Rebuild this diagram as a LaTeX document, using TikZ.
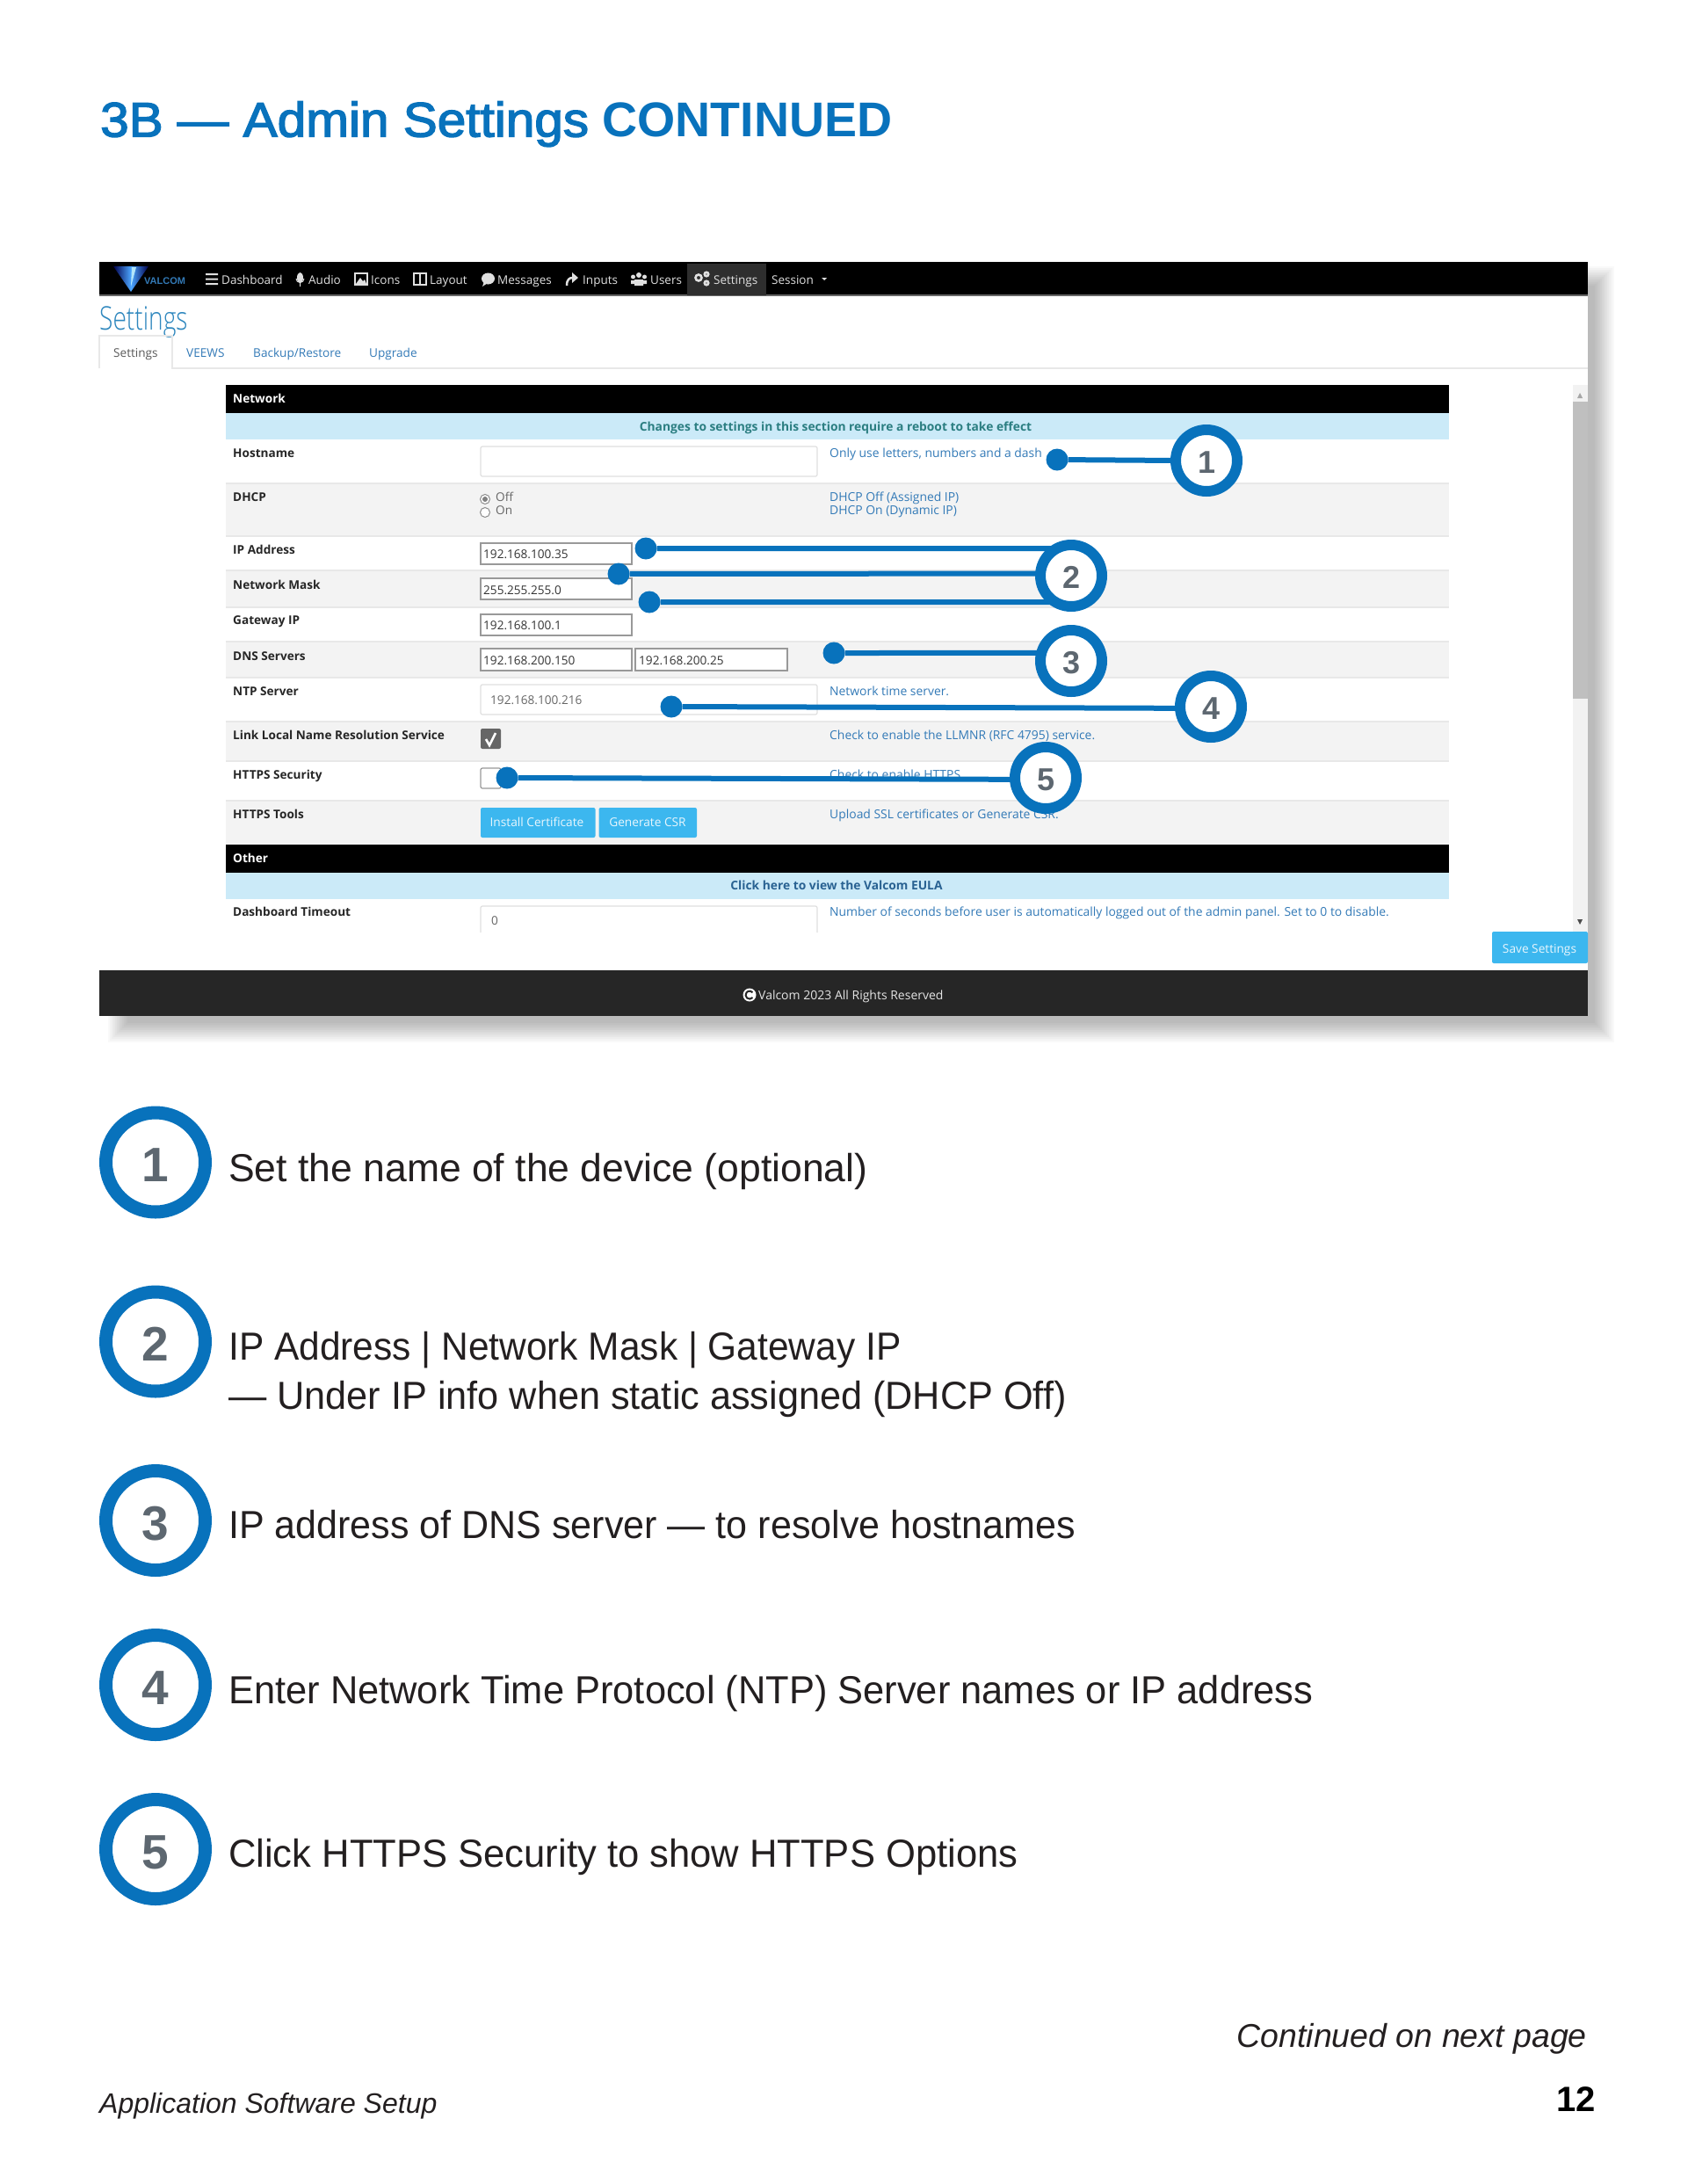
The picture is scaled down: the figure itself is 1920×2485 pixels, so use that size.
\documentclass[tikz,border=0pt]{standalone}
\usepackage{fontspec}
\usepackage{graphicx}
\setmainfont{Liberation Sans}
\newfontfamily\shotfont{Open Sans}
\newfontfamily\shotlight{Open Sans Light}
\newfontfamily\medfont[FakeBold=2.5]{Liberation Sans}
\usetikzlibrary{calc}

\definecolor{valblue}{HTML}{0872BC}
\definecolor{numgray}{HTML}{5D6770}
\definecolor{captext}{HTML}{231F20}
\definecolor{linkblue}{HTML}{337AB7}
\definecolor{rowgray}{HTML}{F3F3F3}
\definecolor{rowline}{HTML}{E8E8E8}
\definecolor{infoblue}{HTML}{CBEAF8}
\definecolor{btnblue}{HTML}{3CB7EF}

\tikzset{
    navtext/.style={anchor=base west,inner sep=0,text=white!88!black,font=\shotfont\fontsize{13.5}{15}\selectfont},
    tabtext/.style={anchor=base west,inner sep=0,text=linkblue,font=\shotfont\fontsize{13.6}{15}\selectfont},
    rowlabel/.style={anchor=base west,inner sep=0,text=black!85,font=\shotfont\bfseries\fontsize{13.6}{15}\selectfont},
    helptext/.style={anchor=base west,inner sep=0,text=linkblue,font=\shotfont\fontsize{13.9}{15}\selectfont},
    fieldtext/.style={anchor=base west,inner sep=0,text=black!80,font=\shotfont\fontsize{13.6}{15}\selectfont},
    softtext/.style={anchor=base west,inner sep=0,text=black!60,font=\shotfont\fontsize{13.6}{15}\selectfont},
    btntext/.style={anchor=base,inner sep=0,text=white!88!btnblue,font=\shotfont\fontsize{13.7}{15}\selectfont},
    infotext/.style={anchor=base,inner sep=0,font=\shotfont\bfseries\fontsize{13.8}{15}\selectfont},
    hardbox/.style={draw=black!40,line width=1.2,fill=white},
    softbox/.style={draw=black!12,line width=1.2,fill=white,rounded corners=2},
    smallbadge/.style={circle,draw=valblue,fill=white,line width=12,minimum size=70,outer sep=0,inner sep=0,
        text=numgray,text height=29,text depth=0,font=\bfseries\fontsize{36}{36}\selectfont},
    bigbadge/.style={circle,draw=valblue,fill=white,line width=15,minimum size=113,outer sep=0,inner sep=0,
        text=numgray,text height=44,text depth=0,font=\bfseries\fontsize{55}{55}\selectfont},
    leaddot/.style={circle,fill=valblue,minimum size=25,inner sep=0,outer sep=0},
    leadline/.style={draw=valblue,line width=6},
    caption/.style={anchor=base west,inner sep=0,align=left,text=captext,font=\fontsize{44.5}{56}\selectfont},
    pagenote/.style={inner sep=0,text=captext,font=\itshape\fontsize{37.5}{40}\selectfont},
}

\begin{document}
\begin{tikzpicture}[x=1pt,y=-1pt]
    \useasboundingbox (0,0) rectangle (1920,2485);
    \fill[white] (0,0) rectangle (1920,2485);

    % draw the title
    \node[anchor=base west,inner sep=0,text=valblue,font=\fontsize{55.5}{60}\selectfont] (title) at (114,155.5)
        {\scalebox{1.054}[1]{\medfont 3B — Admin Settings} \textbf{CONTINUED}};

    % draw the shadow and the window
    \foreach \b in {0,...,11}
        \fill[black,opacity=0.025] (123+2*\b,303+2*\b) rectangle (1837-2*\b,1186-2*\b);
    \fill[white] (113,298) rectangle (1807,1156);

    % draw the top bar
    \fill[black] (113,298) rectangle (1807,335);
    \fill[black!60] (113,335) rectangle (1807,337);
    \fill[black!82] (782,300) rectangle (872,336);
    \shade[left color=black!70!blue,right color=black!70!blue,middle color=cyan!50!blue!70] (129,303) -- (169,303) -- (149,332) -- cycle;
    \fill[white!70!cyan] (150,304) -- (155,304) -- (149,326) -- cycle;
    \node[anchor=base west,inner sep=0,text=linkblue,font=\bfseries\fontsize{11}{11}\selectfont] (navlogo) at (164,323) {VALCOM};
    \node[navtext] (navdash) at (252,323) {Dashboard};
    \node[navtext] (navaudio) at (351,323) {Audio};
    \node[navtext] (navicons) at (422,323) {Icons};
    \node[navtext] (navlayout) at (489,323) {Layout};
    \node[navtext] (navmsg) at (566,323) {Messages};
    \node[navtext] (navinputs) at (663,323) {Inputs};
    \node[navtext] (navusers) at (740,323) {Users};
    \node[navtext] (navsettings) at (812,323) {Settings};
    \node[navtext] (navsession) at (878,323) {Session};

    % draw the icons of the top bar
    \fill[white!88!black] (234,311) rectangle (248,313) (234,316.5) rectangle (248,318.5) (234,322) rectangle (248,324);
    \fill[white!88!black] (341.5,316) ellipse [x radius=3.5,y radius=6];
    \draw[white!88!black,line width=1] (337,317) arc (180:0:4.5) (341.5,321.5) -- (341.5,326);
    \draw[white!88!black,line width=1.6] (404,311) rectangle (418,324);
    \fill[white!88!black] (405,323) -- (410,316) -- (413,320) -- (415,318) -- (417,323) -- cycle;
    \draw[white!88!black,line width=1.6] (471,311) rectangle (485,324) (478,311) -- (478,324);
    \fill[white!88!black] (555.5,317) ellipse [x radius=7.5,y radius=6.5];
    \fill[white!88!black] (549,326) -- (551,320) -- (555,322) -- cycle;
    \draw[white!88!black,line width=2.5] (645,325) .. controls (645,318) and (648,316) .. (652,316);
    \fill[white!88!black] (651,310) -- (658,316) -- (651,322) -- cycle;
    \fill[white!88!black] (727,313) circle (3) (720.5,315) circle (2.5) (733.5,315) circle (2.5);
    \fill[white!88!black] (722,325) rectangle (732,318) (718,323) rectangle (722,319) (732,323) rectangle (736,319);
    \draw[white!88!black,line width=2.6] (795,316) circle (3.5) (804,322) circle (2.2) (804,312) circle (2.2);
    \fill[white!88!black] (935,316) -- (941,316) -- (938,319) -- cycle;

    % draw the heading and the tabs
    \node[anchor=base west,inner sep=0,text=linkblue!90!cyan,font=\shotlight\fontsize{37}{37}\selectfont] (pagehead) at (113,375)
        {\scalebox{0.76}[1]{Settings}};
    \draw[rowline,line width=1.2] (113,419) -- (113,382) -- (196,382) -- (196,419) -- (1807,419);
    \node[tabtext,text=black!65] (tabsettings) at (129,406) {Settings};
    \node[tabtext] (tabveews) at (212,406) {VEEWS};
    \node[tabtext] (tabbackup) at (288,406) {Backup/Restore};
    \node[tabtext] (tabupgrade) at (420,406) {Upgrade};

    % draw the rows
    \fill[black] (257,438) rectangle (1649,470);
    \fill[infoblue] (257,470) rectangle (1649,500);
    \fill[rowgray] (257,550) rectangle (1649,610);
    \fill[rowgray] (257,649) rectangle (1649,691);
    \fill[rowgray] (257,730) rectangle (1649,771);
    \fill[rowgray] (257,821) rectangle (1649,866);
    \fill[rowgray] (257,911) rectangle (1649,961);
    \fill[black] (257,961) rectangle (1649,993);
    \fill[infoblue] (257,993) rectangle (1649,1023);
    \foreach \y in {550,610,649,691,730,771,821,866,911}
        \draw[rowline,line width=1.2] (257,\y) -- (1649,\y);

    % draw the row labels
    \node[rowlabel,text=white] (netlabel) at (265,458.5) {Network};
    \node[infotext,text=infoblue!30!black!70!cyan] (netinfo) at (951,490.5) {Changes to settings in this section require a reboot to take effect};
    \node[rowlabel] (hostlabel) at (265,520.5) {Hostname};
    \node[rowlabel] (dhcplabel) at (265,570.5) {DHCP};
    \node[rowlabel] (iplabel) at (265,630.5) {IP Address};
    \node[rowlabel] (masklabel) at (265,670.5) {Network Mask};
    \node[rowlabel] (gatelabel) at (265,710.5) {Gateway IP};
    \node[rowlabel] (dnslabel) at (265,751.5) {DNS Servers};
    \node[rowlabel] (ntplabel) at (265,791.5) {NTP Server};
    \node[rowlabel] (linklabel) at (265,841.5) {Link Local Name Resolution Service};
    \node[rowlabel] (httpslabel) at (265,886.5) {HTTPS Security};
    \node[rowlabel] (toolslabel) at (265,931.5) {HTTPS Tools};
    \node[rowlabel,text=white] (otherlabel) at (265,981.5) {Other};
    \node[infotext,text=linkblue!80!black] (eulainfo) at (952,1012.5) {Click here to view the Valcom EULA};
    \node[rowlabel] (timelabel) at (265,1042.5) {Dashboard Timeout};

    % draw the fields
    \draw[softbox] (547,508) rectangle (930,542);
    \draw[black!45,line width=1,fill=white] (552,568) circle (5.5);
    \fill[black!50] (552,568) circle (3);
    \draw[black!45,line width=1,fill=white] (552,583) circle (5.5);
    \node[softtext] (dhcpoff) at (564,570) {Off};
    \node[softtext] (dhcpon) at (564,585) {On};
    \draw[hardbox] (547,618) rectangle (719,642);
    \node[fieldtext] (ipvalue) at (550,635.5) {192.168.100.35};
    \draw[hardbox] (547,658) rectangle (719,682);
    \node[fieldtext] (maskvalue) at (550,676) {255.255.255.0};
    \draw[hardbox] (547,699) rectangle (719,723);
    \node[fieldtext] (gatevalue) at (550,716.5) {192.168.100.1};
    \draw[hardbox] (547,738) rectangle (719,763);
    \node[fieldtext] (dnsvalue) at (550,756.5) {192.168.200.150};
    \draw[hardbox] (723,738) rectangle (896,763);
    \node[fieldtext] (dnsother) at (727,756.5) {192.168.200.25};
    \draw[softbox] (547,779) rectangle (930,813);
    \node[softtext] (ntpvalue) at (558,801.5) {192.168.100.216};
    \fill[black!60,rounded corners=2] (547,829) rectangle (570,852);
    \draw[white,line width=2.6] (553,841) -- (557,848) -- (564,834);
    \draw[hardbox,rounded corners=2] (547,874) rectangle (570,897);
    \fill[btnblue,rounded corners=2] (547,919) rectangle (677.5,953);
    \node[btntext] (btninstall) at (611,940.5) {Install Certificate};
    \fill[btnblue,rounded corners=2] (681.5,919) rectangle (793,953);
    \node[btntext] (btncsr) at (737,940.5) {Generate CSR};
    \draw[black!12,line width=1.2,rounded corners=2] (547,1061) -- (547,1031) -- (930,1031) -- (930,1061);
    \node[softtext] (timevalue) at (559,1052.5) {0};

    % draw the help texts
    \node[helptext] (hosthelp) at (944,520.5) {Only use letters, numbers and a dash};
    \node[helptext] (offhelp) at (944,570.5) {DHCP Off (Assigned IP)};
    \node[helptext] (onhelp) at (944,585.5) {DHCP On (Dynamic IP)};
    \node[helptext] (ntphelp) at (944,791.5) {Network time server.};
    \node[helptext] (linkhelp) at (944,841.5) {Check to enable the LLMNR (RFC 4795) service.};
    \node[helptext] (httpshelp) at (944,886.5) {Check to enable HTTPS};
    \node[helptext] (toolshelp) at (944,931.5) {Upload SSL certificates or Generate CSR.};
    \node[helptext] (timehelp) at (944,1042.5) {Number of seconds before user is automatically logged out of the admin panel. Set to 0 to disable.};

    % draw the scrollbar, the button and the footer
    \fill[black!5] (1790,438) rectangle (1807,1060);
    \fill[black!25] (1790,457) rectangle (1807,795);
    \fill[black!35] (1795,453) -- (1801,453) -- (1798,447) -- cycle;
    \fill[black!70] (1795,1046) -- (1801,1046) -- (1798,1052) -- cycle;
    \fill[btnblue,rounded corners=2] (1698,1060) rectangle (1807,1096);
    \node[btntext] (btnsave) at (1752,1084) {Save Settings};
    \fill[black!85] (113,1104) rectangle (1807,1156);
    \fill[white] (853,1132) circle (7.5);
    \draw[black!85,line width=2] (856.5,1135) arc (40:320:4.5);
    \node[anchor=base west,inner sep=0,text=white!90!black,font=\shotfont\fontsize{14}{15}\selectfont] (footer) at (863,1137) {Valcom 2023 All Rights Reserved};

    % draw the badges on the window
    \node[smallbadge] (markone) at (1373,524) {1};
    \node[smallbadge] (marktwo) at (1219,655) {2};
    \node[smallbadge] (markthree) at (1219,752) {3};
    \node[smallbadge] (markfour) at (1378,804) {4};
    \node[smallbadge] (markfive) at (1190,885) {5};

    % draw the dots
    \node[leaddot] (dotone) at (1203,523) {};
    \node[leaddot] (dotip) at (735,624) {};
    \node[leaddot] (dotmask) at (704,653) {};
    \node[leaddot] (dotgate) at (739,685) {};
    \node[leaddot] (dotdns) at (949,743) {};
    \node[leaddot] (dotntp) at (764,804) {};
    \node[leaddot] (dothttps) at (577,885) {};

    % draw the lines
    \draw[leadline] (dotone) -- (markone.west);
    \draw[leadline] (dotip) -- (marktwo.118);
    \draw[leadline] (dotmask) -- (marktwo.176);
    \draw[leadline] (dotgate) -- (marktwo.239);
    \draw[leadline] (dotdns) -- (markthree.165);
    \draw[leadline] (dotntp) -- (markfour.183);
    \draw[leadline] (dothttps) -- (markfive.183);

    % draw the list below
    \node[bigbadge] (itemone) at (177,1322.5) {1};
    \node[bigbadge] (itemtwo) at (177,1526.5) {2};
    \node[bigbadge] (itemthree) at (177,1730) {3};
    \node[bigbadge] (itemfour) at (177,1917) {4};
    \node[bigbadge] (itemfive) at (177,2104) {5};
    \node[caption] (capone) at (260,1344.5) {Set the name of the device (optional)};
    \node[caption] (captwo) at (260,1603.5) {\scalebox{0.954}[1]{IP Address | Network Mask | Gateway IP}\\\scalebox{0.972}[1]{— Under IP info when static assigned (DHCP Off)}};
    \node[caption] (capthree) at (260,1750.5) {\scalebox{0.967}[1]{IP address of DNS server — to resolve hostnames}};
    \node[caption] (capfour) at (260,1938.5) {\scalebox{0.976}[1]{Enter Network Time Protocol (NTP) Server names or IP address}};
    \node[caption] (capfive) at (260,2124.5) {\scalebox{0.979}[1]{Click HTTPS Security to show HTTPS Options}};

    % draw the page notes
    \node[pagenote,anchor=base east] (nextnote) at (1806,2329) {Continued on next page};
    \node[pagenote,anchor=base west,font=\itshape\fontsize{32}{36}\selectfont] (footnote) at (113,2404) {Application Software Setup};
    \node[anchor=base east,inner sep=0,text=black,font=\bfseries\fontsize{40}{40}\selectfont] (pagenum) at (1816,2402) {12};
\end{tikzpicture}
\end{document}
